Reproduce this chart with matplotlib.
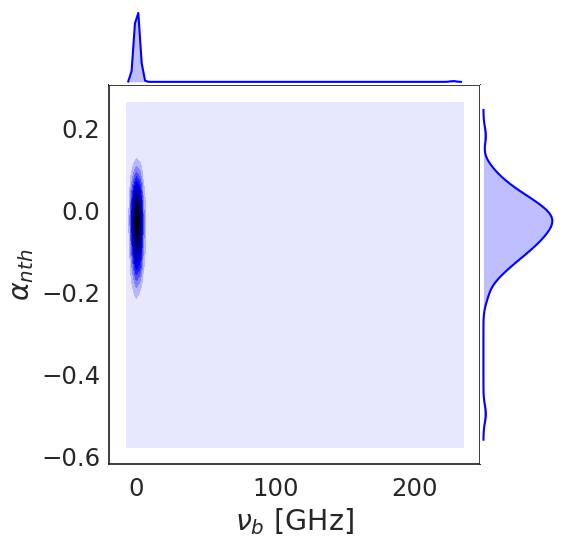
import numpy as np
import matplotlib
matplotlib.use("Agg")
import matplotlib.pyplot as plt
from matplotlib.colors import LinearSegmentedColormap

# samples: break frequency nu_b [GHz] and non-thermal index alpha_nth
nu_b = [
    0.00, 0.09, 0.19, 0.31, 0.44, 0.47, 0.65, 0.89, 1.29, 2.34,
    0.08, 0.18, 0.30, 0.43, 0.60, 0.63, 0.87, 1.24, 2.16, 228.0,
    0.17, 0.29, 0.42, 0.58, 0.61, 0.84, 1.20, 2.02, 0.06, 0.07,
    0.28, 0.41, 0.57, 0.78, 0.82, 1.16, 1.90, 0.06, 0.15, 0.16,
    0.39, 0.55, 0.76, 0.80, 1.13, 1.80, 0.05, 0.14, 0.16, 0.27,
    0.54, 0.74, 1.03, 1.09, 1.71, 0.04, 0.13, 0.24, 0.26, 0.38,
    0.72, 1.00, 1.06, 1.63, 0.03, 0.12, 0.23, 0.25, 0.37, 0.52,
    0.97, 1.44, 1.56, 0.03, 0.11, 0.22, 0.34, 0.36, 0.51, 0.70,
    1.38, 1.50, 0.02, 0.10, 0.21, 0.33, 0.35, 0.50, 0.68, 0.94,
    2.60, 0.01, 0.10, 0.20, 0.32, 0.46, 0.48, 0.66, 0.92, 1.33,
]
alpha_nth = [
    -0.495, -0.215, -0.190, -0.173, -0.164, -0.157, -0.150, -0.144, -0.139, -0.135,
    -0.130, -0.126, -0.122, -0.119, -0.116, -0.113, -0.109, -0.106, -0.103, -0.100,
    -0.097, -0.095, -0.093, -0.090, -0.087, -0.085, -0.083, -0.081, -0.078, -0.076,
    -0.074, -0.071, -0.069, -0.068, -0.065, -0.063, -0.061, -0.059, -0.057, -0.056,
    -0.053, -0.051, -0.049, -0.048, -0.046, -0.043, -0.042, -0.040, -0.038, -0.036,
    -0.034, -0.032, -0.031, -0.029, -0.028, -0.026, -0.024, -0.022, -0.021, -0.019,
    -0.017, -0.016, -0.014, -0.012, -0.010, -0.008, -0.006, -0.005, -0.003, -0.001,
    0.001, 0.003, 0.005, 0.007, 0.009, 0.011, 0.013, 0.016, 0.018, 0.020,
    0.023, 0.025, 0.027, 0.030, 0.033, 0.036, 0.039, 0.042, 0.045, 0.049,
    0.053, 0.057, 0.061, 0.066, 0.072, 0.079, 0.086, 0.096, 0.110, 0.181,
]

x_ticks = [0, 100, 200]
y_ticks = [-0.6, -0.4, -0.2, 0.0, 0.2]

# kernel widths for the marginal (1d) and joint (2d) estimates
bw_nu_1d, bw_nu_2d = 1.9, 2.4
bw_al_1d, bw_al_2d = 0.021, 0.027
cut = 3
gridsize = 100
n_levels = 15


def support(v, bw):
    return np.linspace(v.min() - cut * bw, v.max() + cut * bw, gridsize)


def kernel(grid, v, bw):
    return np.exp(-0.5 * ((grid[:, None] - v[None, :]) / bw) ** 2) / (bw * np.sqrt(2 * np.pi))


def kde1d(v, bw):
    g = support(v, bw)
    return g, kernel(g, v, bw).mean(axis=1)


x = np.array(nu_b)
y = np.array(alpha_nth)

plt.rcParams["font.family"] = ["DejaVu Sans"]
plt.rcParams["axes.edgecolor"] = "0.15"
plt.rcParams["axes.linewidth"] = 1.25

fig = plt.figure(figsize=(5.64, 5.48), dpi=100)
W, H = 564.0, 548.0
l, r, t, b = 109.3, 480.0, 85.3, 464.3
m = 75.8
ax = fig.add_axes([l / W, 1 - b / H, (r - l) / W, (b - t) / H])
ax_top = fig.add_axes([l / W, 1 - t / H, (r - l) / W, m / H], sharex=ax)
ax_right = fig.add_axes([r / W, 1 - b / H, m / W, (b - t) / H], sharey=ax)

# joint density, lowest band fills the whole grid
gx = support(x, bw_nu_2d)
gy = support(y, bw_al_2d)
z = kernel(gy, y, bw_al_2d) @ kernel(gx, x, bw_nu_2d).T / len(x)
levels = np.linspace(z.min(), z.max(), n_levels)
cmap = LinearSegmentedColormap.from_list(
    "kde", [(0.0, "#e7e7fd"), (0.35, "#0000ff"), (1.0, "#000000")])
ax.contourf(gx, gy, z, levels=levels,
            colors=cmap(np.linspace(0, 1, len(levels) - 1)))

pad_x = 0.05 * (gx[-1] - gx[0])
pad_y = 0.05 * (gy[-1] - gy[0])
ax.set_xlim(gx[0] - pad_x, gx[-1] + pad_x)
ax.set_ylim(gy[0] - pad_y, gy[-1] + pad_y)
ax.set_xticks(x_ticks)
ax.set_yticks(y_ticks)
ax.tick_params(length=0, labelsize=17.6, colors="0.15")
ax.tick_params(axis="x", pad=9)
ax.tick_params(axis="y", pad=6.5)
ax.set_xlabel(r"$\nu_b$ [GHz]", fontsize=20.5, color="0.15", labelpad=4)
ax.set_ylabel(r"$\alpha_{nth}$", fontsize=20.5, color="0.15", labelpad=4)

# marginals
mx, dx = kde1d(x, bw_nu_1d)
ax_top.fill_between(mx, 0, dx, color="blue", alpha=0.25, lw=0)
ax_top.plot(mx, dx, color="blue", lw=1.5)
ax_top.set_ylim(-0.05 * dx.max(), 1.05 * dx.max())

my, dy = kde1d(y, bw_al_1d)
ax_right.fill_betweenx(my, 0, dy, color="blue", alpha=0.25, lw=0)
ax_right.plot(dy, my, color="blue", lw=1.5)
ax_right.set_xlim(-0.05 * dy.max(), 1.05 * dy.max())

for a in (ax_top, ax_right):
    for s in a.spines.values():
        s.set_visible(False)
    a.tick_params(left=False, bottom=False, labelleft=False, labelbottom=False)

fig.savefig("out.png", dpi=100)
